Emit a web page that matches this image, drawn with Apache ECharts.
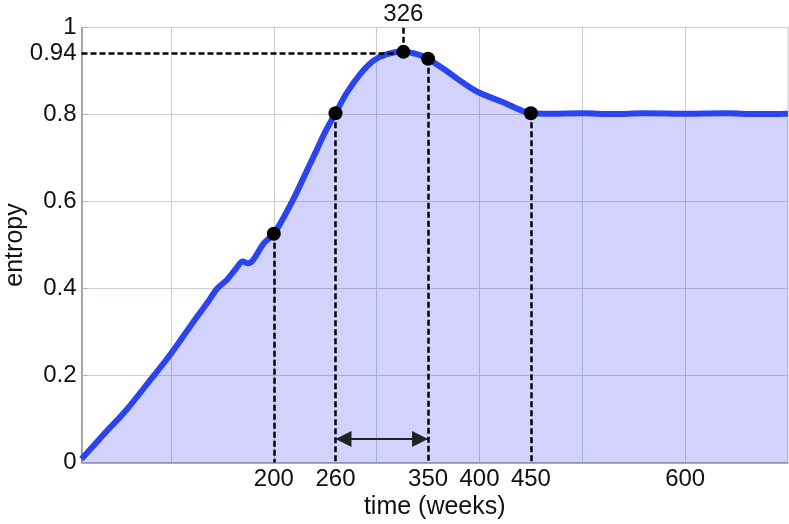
<!DOCTYPE html>
<html>
<head>
<meta charset="utf-8">
<script src="https://cdn.jsdelivr.net/npm/echarts@6/dist/echarts.min.js"></script>
<style>
html,body{margin:0;padding:0;background:#fff;}
#chart{width:789px;height:524px;}
</style>
</head>
<body>
<div id="chart"></div>
<script>
// ---- data ----
const times   = [13, 34, 57, 81, 99, 125, 135, 145, 154, 163, 170, 175, 180, 190, 200, 210, 220, 230, 240, 250, 260, 271, 284, 297, 310, 326, 340, 350, 368, 384, 400, 423, 440, 450, 470, 500, 530, 560, 600, 640, 670, 700];
const entropy = [0.008, 0.063, 0.122, 0.193, 0.247, 0.334, 0.366, 0.400, 0.419, 0.445, 0.462, 0.458, 0.466, 0.503, 0.526, 0.565, 0.610, 0.660, 0.710, 0.760, 0.803, 0.850, 0.893, 0.924, 0.939, 0.944, 0.938, 0.928, 0.900, 0.873, 0.850, 0.828, 0.810, 0.803, 0.802, 0.803, 0.801, 0.803, 0.802, 0.803, 0.801, 0.802];

const markTimes  = [200, 260, 326, 350, 450];
const markValues = [0.526, 0.803, 0.944, 0.928, 0.803];
const dropTimes  = [200, 260, 350, 450];      // dashed drops to the time axis
const peakTime   = 326;
const peakLevel  = 0.94;
const arrowSpan  = [260, 350];
const arrowLevel = 0.054;

const xTickLabels = [200, 260, 350, 400, 450, 600];
const xGridLines  = [100, 200, 300, 400, 500, 600];
const yTickLabels = [0, 0.2, 0.4, 0.6, 0.8, 0.94, 1];
const yGridLines  = [0, 0.2, 0.4, 0.6, 0.8, 1];
const xMin = 13, xMax = 700;

// ---- chart ----
const FONT = 'Liberation Sans';
const lineData = times.map((t, i) => [t, entropy[i]]);
const markData = markTimes.map((t, i) => [t, markValues[i]]);
const valueAt = t => markValues[markTimes.indexOf(t)];

const dash = { color: '#000', width: 2.5, type: [6, 3] };

const dashedLines = dropTimes.map(t => [{ coord: [t, valueAt(t)] }, { coord: [t, 0] }]);
dashedLines.push([{ coord: [xMin, peakLevel] }, { coord: [peakTime, peakLevel] }]);
dashedLines.push([{ coord: [peakTime, valueAt(peakTime)] },
  { coord: [peakTime, 1], label: { show: true, position: 'end', formatter: String(peakTime),
    fontFamily: FONT, fontSize: 24, color: '#111', distance: 1 } }]);

const chart = echarts.init(document.getElementById('chart'), null, { renderer: 'canvas' });
chart.setOption({
  animation: false,
  backgroundColor: '#fff',
  grid: { left: 81.5, right: 1, top: 27.5, bottom: 61.5, containLabel: false, outerBoundsMode: 'none',
    show: true, borderColor: '#bcc3c3', borderWidth: 1, backgroundColor: 'transparent' },
  xAxis: {
    type: 'value', min: xMin, max: xMax,
    name: 'time (weeks)', nameLocation: 'middle', nameGap: 32, nameMoveOverlap: false,
    nameTextStyle: { fontFamily: FONT, fontSize: 25, color: '#111' },
    axisLine: { show: true, lineStyle: { color: '#8d9393', width: 1.5 } },
    axisTick: { show: false, customValues: xGridLines },
    splitLine: { show: true, customValues: xGridLines, lineStyle: { color: '#c9d0d0', width: 1 } },
    axisLabel: { customValues: xTickLabels, fontFamily: FONT, fontSize: 24, color: '#111', margin: 5 }
  },
  yAxis: {
    type: 'value', min: 0, max: 1, interval: 0.2,
    name: 'entropy', nameLocation: 'middle', nameGap: 54, nameRotate: 90, nameMoveOverlap: false,
    nameTextStyle: { fontFamily: FONT, fontSize: 25, color: '#111' },
    axisLine: { show: true, lineStyle: { color: '#8d9393', width: 1.5 } },
    axisTick: { show: true, inside: true, length: 6, customValues: yGridLines, lineStyle: { color: '#a8b0b0' } },
    splitLine: { show: true, lineStyle: { color: '#c9d0d0', width: 1 } },
    axisLabel: { customValues: yTickLabels, fontFamily: FONT, fontSize: 24, color: '#111', margin: 5 }
  },
  series: [
    {
      type: 'line', data: lineData, smooth: 0.35, showSymbol: false, symbol: 'none',
      lineStyle: { color: '#2a45f0', width: 6 },
      areaStyle: { color: 'rgb(60,60,245)', opacity: 0.23, origin: 'start' },
      markLine: {
        silent: true, symbol: 'none', animation: false,
        label: { show: false },
        lineStyle: dash,
        emphasis: { disabled: true },
        data: dashedLines
      },
      z: 2
    },
    {
      type: 'line', data: [], symbol: 'none',
      markLine: {
        silent: true, animation: false,
        symbol: ['triangle', 'triangle'], symbolSize: [16, 16], symbolOffset: [[0, 8], [0, 8]],
        label: { show: false },
        emphasis: { disabled: true },
        lineStyle: { color: '#222', width: 2, type: 'solid' },
        data: [[{ coord: [arrowSpan[0], arrowLevel] }, { coord: [arrowSpan[1], arrowLevel] }]]
      },
      z: 3
    },
    {
      type: 'scatter', data: markData, symbol: 'circle', symbolSize: 14,
      itemStyle: { color: '#000', opacity: 1 }, z: 5
    }
  ]
});
</script>
</body>
</html>
